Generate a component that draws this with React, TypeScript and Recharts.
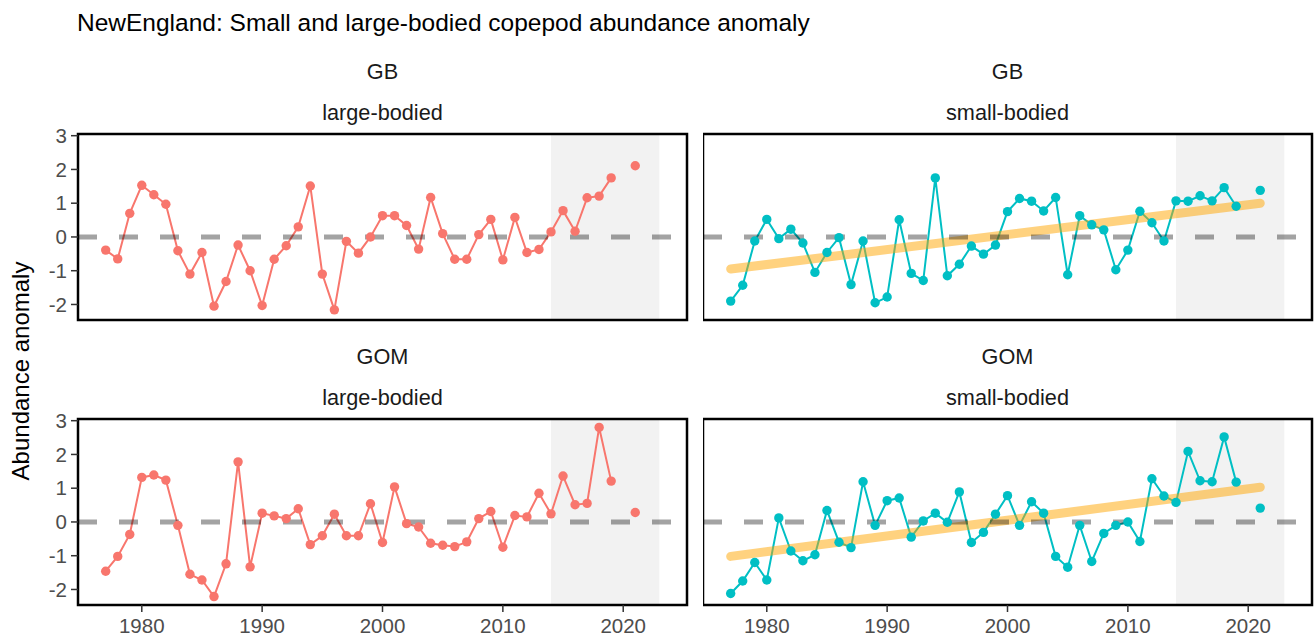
import React from 'react';
import { LineChart, Line, XAxis, YAxis, ReferenceArea, ReferenceLine } from 'recharts';

const years: number[] = [
  1977, 1978, 1979, 1980, 1981, 1982, 1983, 1984, 1985, 1986,
  1987, 1988, 1989, 1990, 1991, 1992, 1993, 1994, 1995, 1996,
  1997, 1998, 1999, 2000, 2001, 2002, 2003, 2004, 2005, 2006,
  2007, 2008, 2009, 2010, 2011, 2012, 2013, 2014, 2015, 2016,
  2017, 2018, 2019, 2020, 2021,
];

const gbLarge: (number | null)[] = [
  -0.39, -0.65, 0.7, 1.53, 1.25, 0.97, -0.41, -1.1, -0.46, -2.05,
  -1.32, -0.24, -1.0, -2.03, -0.66, -0.26, 0.3, 1.51, -1.1, -2.16,
  -0.13, -0.48, 0.0, 0.63, 0.63, 0.34, -0.36, 1.17, 0.1, -0.66,
  -0.66, 0.07, 0.52, -0.68, 0.58, -0.46, -0.37, 0.15, 0.78, 0.17,
  1.16, 1.21, 1.75, null, 2.11,
];

const gbSmall: (number | null)[] = [
  -1.9, -1.43, -0.12, 0.52, -0.05, 0.23, -0.18, -1.05, -0.46, -0.02,
  -1.41, -0.12, -1.95, -1.78, 0.51, -1.08, -1.29, 1.75, -1.15, -0.81,
  -0.27, -0.51, -0.24, 0.75, 1.14, 1.06, 0.77, 1.17, -1.12, 0.63,
  0.36, 0.21, -0.97, -0.39, 0.76, 0.42, -0.12, 1.07, 1.06, 1.22,
  1.07, 1.46, 0.91, null, 1.38,
];

const gomLarge: (number | null)[] = [
  -1.46, -1.02, -0.37, 1.32, 1.39, 1.24, -0.1, -1.55, -1.72, -2.21,
  -1.24, 1.78, -1.33, 0.26, 0.18, 0.1, 0.39, -0.67, -0.41, 0.23,
  -0.41, -0.41, 0.54, -0.61, 1.04, -0.05, -0.15, -0.63, -0.69, -0.73,
  -0.59, 0.1, 0.31, -0.75, 0.19, 0.15, 0.85, 0.24, 1.36, 0.51,
  0.55, 2.8, 1.21, null, 0.28,
];

const gomSmall: (number | null)[] = [
  -2.12, -1.75, -1.2, -1.72, 0.12, -0.86, -1.15, -0.97, 0.34, -0.6,
  -0.76, 1.19, -0.1, 0.63, 0.71, -0.45, 0.03, 0.26, -0.01, 0.89,
  -0.61, -0.31, 0.23, 0.78, -0.1, 0.6, 0.26, -1.02, -1.34, -0.1,
  -1.17, -0.34, -0.1, 0.0, -0.58, 1.28, 0.77, 0.58, 2.09, 1.22,
  1.19, 2.52, 1.18, null, 0.41,
];

const trendYears: number[] = [1977, 2021];
const gbSmallTrend: number[] = [-0.95, 1.0];
const gomSmallTrend: number[] = [-1.02, 1.03];

const shadeStart = 2014;
const shadeEnd = 2023;

const xTicks: number[] = [1980, 1990, 2000, 2010, 2020];
const yTicks: number[] = [-2, -1, 0, 1, 2, 3];

const regionLabels: string[] = ['GB', 'GOM'];
const sizeLabels: string[] = ['large-bodied', 'small-bodied'];
const titleText = 'NewEngland: Small and large-bodied copepod abundance anomaly';
const yAxisTitle = 'Abundance anomaly';

const X_DOMAIN: [number, number] = [1974.7, 2025.3];
const Y_DOMAIN: [number, number] = [-2.46, 3.05];

const FONT = '"Liberation Sans", Arial, Helvetica, sans-serif';
const RED = '#F8766D';
const TEAL = '#00BFC4';

const PANEL_W = 609;
const PANEL_H = 186;
const COL_LEFT = [78, 703];
const ROW_TOP = [134, 419];
const PAD = 14;

type PanelProps = {
  left: number;
  top: number;
  values: (number | null)[];
  color: string;
  trend?: number[];
  showX: boolean;
  showY: boolean;
};

function Panel({ left, top, values, color, trend, showX, showY }: PanelProps) {
  const yW = showY ? 78 : 0;
  const xH = showX ? 36 : 0;
  const data = years.map((yr, i) => ({ year: yr, v: values[i] }));
  const trendData = trend ? trendYears.map((yr, i) => ({ year: yr, trend: trend[i] })) : [];
  return (
    <div style={{ position: 'absolute', left: left - yW, top: top - PAD }}>
      <LineChart
        width={PANEL_W + yW + PAD}
        height={PANEL_H + xH + PAD * 2}
        data={data}
        margin={{ top: PAD, right: PAD, bottom: PAD, left: 0 }}
      >
        <XAxis
          type="number"
          dataKey="year"
          domain={X_DOMAIN}
          ticks={xTicks}
          interval={0}
          allowDataOverflow
          hide={!showX}
          height={xH}
          axisLine={false}
          tickSize={7}
          tickMargin={6}
          tickLine={{ stroke: '#333333', strokeWidth: 1.5 }}
          tick={{ fill: '#4D4D4D', fontSize: 20.5, fontFamily: FONT }}
        />
        <YAxis
          type="number"
          domain={Y_DOMAIN}
          ticks={yTicks}
          interval={0}
          allowDataOverflow
          hide={!showY}
          width={yW}
          axisLine={false}
          tickSize={7}
          tickMargin={4}
          tickLine={{ stroke: '#333333', strokeWidth: 1.5 }}
          tick={{ fill: '#4D4D4D', fontSize: 20.5, fontFamily: FONT }}
        />
        <ReferenceArea x1={shadeStart} x2={shadeEnd} fill="#F2F2F2" fillOpacity={1} stroke="none" />
        <Line
          dataKey="v"
          stroke={color}
          strokeWidth={2}
          dot={{ r: 4.7, fill: color, stroke: 'none', strokeWidth: 0 }}
          activeDot={false}
          isAnimationActive={false}
          connectNulls={false}
        />
        {trend ? (
          <Line
            data={trendData}
            dataKey="trend"
            stroke="#FFA500"
            strokeOpacity={0.5}
            strokeWidth={9}
            strokeLinecap="round"
            dot={false}
            activeDot={false}
            isAnimationActive={false}
          />
        ) : null}
        <ReferenceLine y={0} stroke="#000000" strokeOpacity={0.36} strokeWidth={5} strokeDasharray="19 22" />
        <ReferenceArea
          x1={X_DOMAIN[0]}
          x2={X_DOMAIN[1]}
          y1={Y_DOMAIN[0]}
          y2={Y_DOMAIN[1]}
          fill="none"
          fillOpacity={0}
          stroke="#000000"
          strokeOpacity={1}
          strokeWidth={2.5}
        />
      </LineChart>
    </div>
  );
}

export default function App() {
  const centers = COL_LEFT.map((l) => l + PANEL_W / 2);
  return (
    <div
      style={{
        position: 'absolute',
        left: 0,
        top: 0,
        width: 1315,
        height: 639,
        background: '#FFFFFF',
        fontFamily: FONT,
        overflow: 'hidden',
      }}
    >
      <svg width={1315} height={639} style={{ position: 'absolute', left: 0, top: 0 }}>
        <text x={77} y={31} fontSize={24.5} fill="#000000" fontFamily={FONT}>
          {titleText}
        </text>
        {ROW_TOP.map((t, r) =>
          centers.map((cx, c) => (
            <g key={`${r}-${c}`}>
              <text x={cx} y={t - 55} fontSize={21.7} fill="#1A1A1A" textAnchor="middle" fontFamily={FONT}>
                {regionLabels[r]}
              </text>
              <text x={cx} y={t - 14} fontSize={21.7} fill="#1A1A1A" textAnchor="middle" fontFamily={FONT}>
                {sizeLabels[c]}
              </text>
            </g>
          ))
        )}
        <text
          x={0}
          y={0}
          transform="translate(29, 371) rotate(-90)"
          fontSize={24}
          fill="#000000"
          textAnchor="middle"
          fontFamily={FONT}
        >
          {yAxisTitle}
        </text>
      </svg>
      <Panel left={COL_LEFT[0]} top={ROW_TOP[0]} values={gbLarge} color={RED} showX={false} showY={true} />
      <Panel left={COL_LEFT[1]} top={ROW_TOP[0]} values={gbSmall} color={TEAL} trend={gbSmallTrend} showX={false} showY={false} />
      <Panel left={COL_LEFT[0]} top={ROW_TOP[1]} values={gomLarge} color={RED} showX={true} showY={true} />
      <Panel left={COL_LEFT[1]} top={ROW_TOP[1]} values={gomSmall} color={TEAL} trend={gomSmallTrend} showX={true} showY={false} />
    </div>
  );
}
